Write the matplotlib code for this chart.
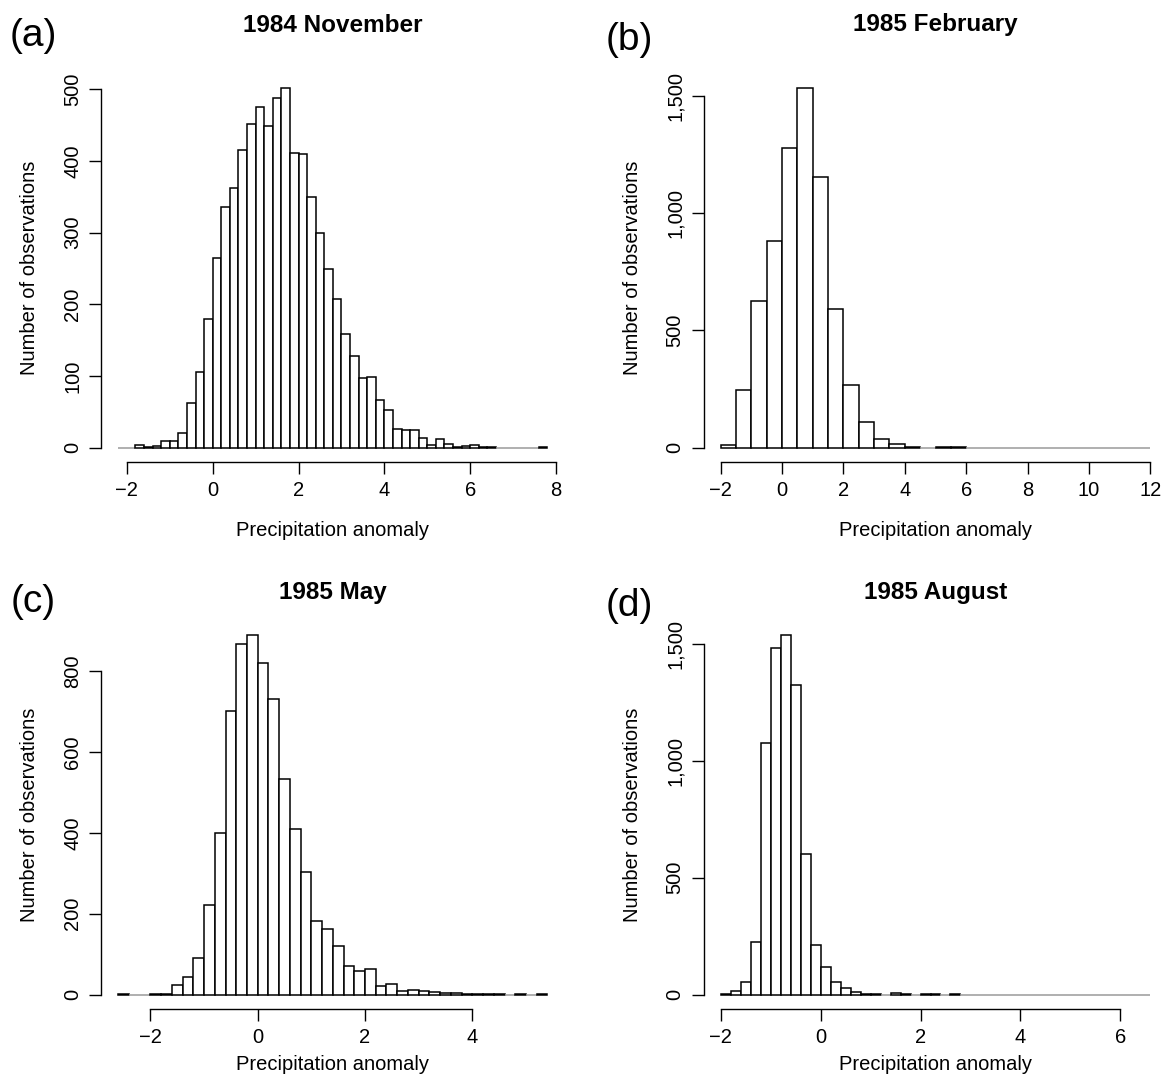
import numpy as np
import matplotlib
matplotlib.use("Agg")
import matplotlib.pyplot as plt
from matplotlib.ticker import FuncFormatter

plt.rcParams['font.family'] = ['Liberation Sans', 'DejaVu Sans']

# ---------------- data (histogram counts) ----------------
titles = ["1984 November", "1985 February", "1985 May", "1985 August"]
letters = ["(a)", "(b)", "(c)", "(d)"]

# panel (a): bins of width 0.2 starting at -2.2
a_start, a_width = -2.2, 0.2
a_counts = [0, 0, 4, 1, 3, 9, 10, 21, 63, 106, 180, 264, 336, 362, 415, 452, 475,
            449, 488, 502, 411, 410, 349, 300, 249, 208, 158, 128, 97, 98, 66, 52,
            26, 24, 24, 14, 4, 12, 5, 1, 3, 4, 1, 1, 0, 0, 0, 0, 0, 1]

# panel (b): bins of width 0.5 starting at -2.0
b_start, b_width = -2.0, 0.5
b_counts = [12, 246, 625, 879, 1278, 1533, 1152, 591, 266, 111, 38, 15, 3, 0, 4, 2,
            0, 0, 0, 0, 0, 0, 0, 0, 0, 0, 0, 0]

# panel (c): bins of width 0.2 starting at -2.6
c_start, c_width = -2.6, 0.2
c_counts = [1, 0, 0, 1, 1, 23, 43, 91, 222, 399, 701, 867, 890, 819, 730, 533, 409,
            304, 183, 161, 119, 70, 59, 63, 22, 26, 10, 11, 8, 7, 5, 3, 2, 2, 1, 1,
            0, 1, 0, 1]

# panel (d): bins of width 0.2 starting at -2.0
d_start, d_width = -2.0, 0.2
d_counts = [3, 14, 56, 223, 1074, 1481, 1539, 1323, 599, 214, 120, 56, 27, 13, 3, 2,
            0, 5, 2, 0, 2, 2, 0, 2, 0, 0, 0, 0, 0, 0, 0, 0, 0, 0, 0, 0, 0, 0, 0, 0,
            0, 0, 0]

x_ticks = [[-2, 0, 2, 4, 6, 8], [-2, 0, 2, 4, 6, 8, 10, 12], [-2, 0, 2, 4], [-2, 0, 2, 4, 6]]
y_ticks = [[0, 100, 200, 300, 400, 500], [0, 500, 1000, 1500],
           [0, 200, 400, 600, 800], [0, 500, 1000, 1500]]

xlabel = "Precipitation anomaly"
ylabel = "Number of observations"

# ---------------- layout ----------------
W, H = 1168, 1076
fig = plt.figure(figsize=(W / 100, H / 100), dpi=100)

cols = [(101.1, 564.6), (703.5, 1167.5)]
rows = [(73.4, 462.1), (620.2, 1009.0)]
title_y = [25, 593]
letter_pos = [(33, 36), (629, 40), (33, 602), (629, 606)]
xlab_y = [531, 1064]
ylab_x = [30, 632]

panels = [(a_start, a_width, a_counts), (b_start, b_width, b_counts),
          (c_start, c_width, c_counts), (d_start, d_width, d_counts)]

fs = 14.5
for i, (start, width, counts) in enumerate(panels):
    r, c = divmod(i, 2)
    l, rr = cols[c]
    t, b = rows[r]
    ax = fig.add_axes([l / W, 1 - b / H, (rr - l) / W, (b - t) / H])
    counts = np.asarray(counts, dtype=float)
    edges = start + width * np.arange(len(counts) + 1)
    ecol = ['black' if v > 0 else '#9a9a9a' for v in counts]
    ax.bar(edges[:-1], counts, width=width, align='edge', facecolor='white',
           edgecolor=ecol, linewidth=1.1)
    xr = edges[-1] - edges[0]
    ax.set_xlim(edges[0] - 0.04 * xr, edges[-1] + 0.04 * xr)
    ymax = counts.max()
    ax.set_ylim(-0.04 * ymax, 1.04 * ymax)

    for s in ['top', 'right']:
        ax.spines[s].set_visible(False)
    ax.spines['left'].set_bounds(y_ticks[i][0], y_ticks[i][-1])
    ax.spines['bottom'].set_bounds(x_ticks[i][0], x_ticks[i][-1])
    for s in ['left', 'bottom']:
        ax.spines[s].set_linewidth(1.0)
    ax.set_xticks(x_ticks[i])
    ax.set_yticks(y_ticks[i])
    ax.yaxis.set_major_formatter(FuncFormatter(lambda v, p: f"{int(v):,}"))
    ax.tick_params(direction='out', length=8.6, width=1.0, labelsize=fs, pad=5)
    for lab in ax.get_yticklabels():
        lab.set_rotation(90)
        lab.set_va('center')
        lab.set_ha('right')

    ax.set_xlabel(xlabel, fontsize=fs)
    ax.xaxis.set_label_coords(((l + rr) / 2) / W, 1 - xlab_y[r] / H, transform=fig.transFigure)
    ax.xaxis.label.set_va('center')
    ax.set_ylabel(ylabel, fontsize=fs)
    ax.yaxis.set_label_coords(ylab_x[c] / W, 1 - ((t + b) / 2) / H, transform=fig.transFigure)
    ax.yaxis.label.set_va('center')

    fig.text(((l + rr) / 2) / W, 1 - title_y[r] / H, titles[i], fontsize=17.5,
             fontweight='bold', ha='center', va='center')
    lx, ly = letter_pos[i]
    fig.text(lx / W, 1 - ly / H, letters[i], fontsize=28, ha='center', va='center')

fig.savefig("out.png", dpi=100)
